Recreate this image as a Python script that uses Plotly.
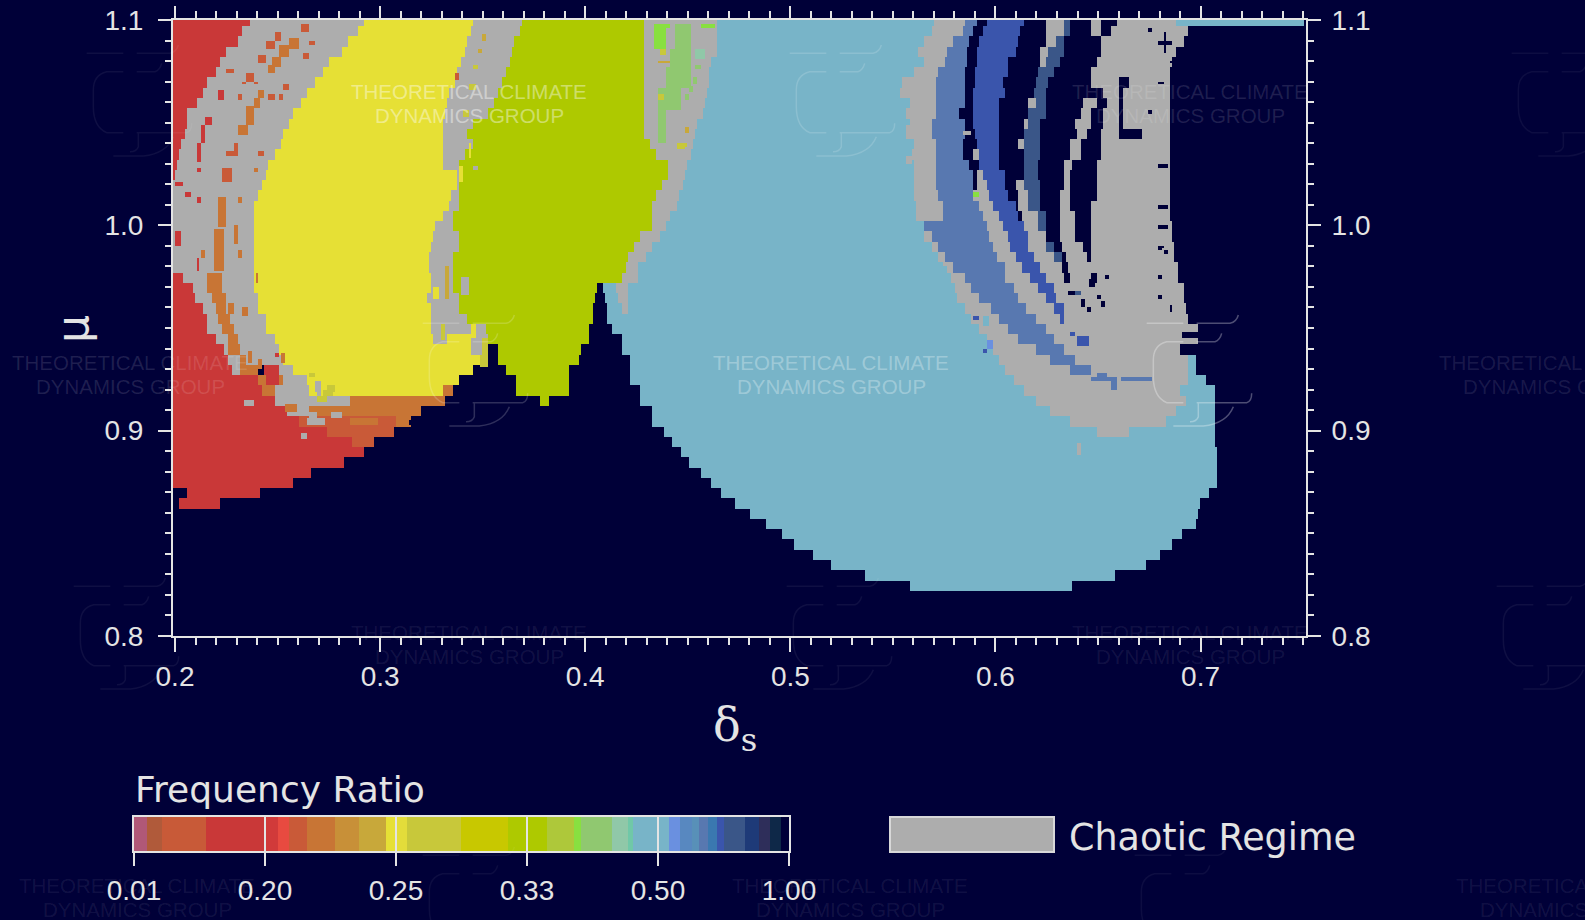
import re
import numpy as np
import plotly.graph_objects as go

# ---------- data ----------
# regime code -> colour
regime_codes = "DRaOGYLTBKSNMPCHE"
regime_colors = ["#000038", "#c93838", "#c95a38", "#c87535", "#adadad", "#e6e035", "#aec900",
                 "#78b4c8", "#5878b0", "#3a55ac", "#3a5688", "#88e040", "#90c870", "#90c8a8",
                 "#c8c83a", "#c8a83a", "#6a90e0"]

# mu of the top row and row height; every string holds runs "<code><delta*1000 at end of run>"
mu_top = 1.102
mu_step = 0.005
# the delta readings were taken against a first tick spacing that was a little short
delta_reading_scale = 2030 / 2051
regime_rows = [
 "R237 G292.6 Y346.8 G371 L431.5 G467.5 T574.4 G589.1 B595.2 D599.8 K617.9 D629.4 G638.4 S640.9 D650.7 G656.5 D663.9 G700.8",
 "R233 G289.7 Y346 G370 L431.5 G467.5 T572.7 G588.3 B593.2 D598.2 K616.2 D628.6 G638.4 S640.9 D650.7 G656.5 D660.6 G699.1",
 "R231 G285 Y344 G367.5 L431.5 G467.5 T569.4 G583.4 B590.8 D595.7 K615.4 D628.6 G634.3 S638.4 D655.6 G696.7",
 "R224.6 G282 Y343 G366.5 L431.5 G467.5 T566.2 G580.1 B590 D595.2 K613.8 D626.1 G630.2 S637.6 D655.6 G693.4",
 "R222 G276.4 Y341 G365 L431.5 G464.5 T568.6 G579.3 B590 D594.9 K610.5 D626.1 G628.6 S636 D654 G691",
 "R219.7 G273 Y339 G362.6 L431.5 G463.5 T563.7 G576 B589.1 D594 K609.7 D625.3 S632.7 D650.7 G690.1",
 "R215.8 G269 Y338 G361 L431.5 G463.5 T558 G575.2 B588.6 D594 K608 D623.6 S630.2 D650.7 G664.7 D670.4 G690.1",
 "R213.8 G265.5 Y335.5 G359 L431.5 G462 T557 G575.2 B589.1 D593.2 K608.8 D622.8 S628.6 D657.3 G664.7 D667.1 G690.1",
 "R210.8 G261.6 Y334 G356.7 L431.5 G461 T562 G575.2 B589.1 D593.2 K606.4 D620.3 G623.6 S628.6 D646.6 G654 D658.9 G664.7 D667.1 G690.1",
 "R206.4 G258 Y333 G354 L431.5 G459.6 T560.4 G575.2 B585.9 D593.2 K605.6 D620.3 S628.6 D645.8 G650.7 D657.3 G664.7 D667.1 G690.1",
 "R206 G255.7 Y332 G346.8 L431.5 G457 T562 G573.5 B589.1 D593.2 K605.6 D617.9 G620.3 S626.1 D643.3 G650.7 D657.3 G664.7 D667.1 G690.1",
 "R205 G253 Y332 G344 L431.5 G456 T560.4 G573.5 B589.1 D594 K605.6 D617.9 S626.1 D644.2 G649 D656.5 G664.7 D676.2 G690.1",
 "R203.5 G251.7 Y332 G347 L434 G455 T563.7 G575.2 B588.3 D595.2 K605.6 D615.4 G617.9 S626.1 D640.9 G645.8 D656.5 G690.1",
 "R202.5 G249 Y332 G343 L437.4 G453.7 T562.9 G575.2 B588.3 D593.2 G595.7 K605.6 D617.9 S626.1 D640.9 G645.8 D655.6 G690.1",
 "R201 G245.8 Y332 G340.4 L442.9 G452 T563.7 G575.2 B590.8 D595.7 K605.6 D617.9 S625.3 D637.6 G641.7 D654 G690.1",
 "R200 G245.3 Y339.4 G340.4 L443 G451 T563.7 G575.2 B593.2 D595.2 G598.2 K608.8 D617.9 S625.3 D638.4 G640.9 D654 G690.1",
 "G243 Y339.4 G340.4 L440 G449.8 T564.5 G575.2 B593.2 D595.2 G599.8 K608.8 D613.8 G617.9 S626.1 D637.6 G640.9 D654 G690.1",
 "G241 Y336.5 G340.4 L437.4 G447.8 T564.5 G576 B593.2 G600.6 K609.7 D615.4 G620.3 S626.1 D636 G640.9 D654 G690.1",
 "G239 Y335.5 G340.4 L435.5 G447.3 T565.3 G577.7 B595.7 G603.1 K613.8 D615.4 G620.3 S626.1 D636 G640.9 D650.7 G690.1",
 "G239 Y332 G337 L435.5 G443.8 T565.3 G577.7 B598.2 G605.6 K615.4 D617 G625.3 S629.4 D636 G643.3 D650.7 G690.1",
 "G239 Y328 G337 L435.5 G442.4 T568.6 G569.4 B599.8 G608 K617.9 G625.3 S629.4 D636 G643.3 D650.7 G691",
 "G239 Y326.6 G340.4 L429 G439 T568.6 G572.7 B601.5 G609.7 K620.3 G628.6 D636 G643.3 D650.7 G691",
 "G239 Y325.6 G340.4 L425.6 G435.5 T572.7 G576 B603.1 G611.3 K620.3 G628.6 S633.5 D636.8 G646.6 D650.7 G691.8",
 "G239 Y324.6 G337 L423 G432.5 T576 G579.3 B604.7 G613.8 K622.8 G632.7 S636.8 D639.2 G649 D650.7 G691.8",
 "G239 Y324.6 G337 L421.7 G428 T577.7 G582.6 B608.8 G617 K626.1 G636.8 D640 G694.2",
 "R203.8 G215.6 O223 G238.9 Y325.6 G337 L420 G427.6 T581.8 G589.1 B608.8 G621.2 K629.4 G638.4 D640.9 G650.7 D654 G694.2",
 "R209 G215.6 O223 G238.9 Y325.6 G337 L407.7 D411 T417.5 G423.3 T584.2 G591.6 B613 G625.3 K632.7 G696.7",
 "R209.8 G218 O224.6 G241 Y324 G339.6 L407.4 D411.6 T418 G423.3 T585 G595.7 B615.4 G629.4 K634.3 G696.7",
 "R214 G220.5 O224.6 G226.5 O229 G241.4 Y326.4 G340.4 L406 D412.6 T420 G423 T589.1 G602.3 B618.7 G633.5 K638.4 G698.3",
 "R215.6 G221.3 O227 G245.1 Y325.6 G344.5 L406 D412.6 T592.4 G606.4 B624.4 G636 K638.4 G699.1",
 "R215.6 G223 O229.5 G245.1 Y325.6 G352.7 L403.6 D415.1 T595.7 G610.5 B628.6 G704",
 "R219.7 G226.3 O231.2 G249.2 Y327.2 G333.8 Y347 G354.3 L404.4 D420 T599.8 G615.4 B633.5 G704",
 "R223.8 G226.3 O232 G250.9 Y354.3 D359.3 L400 D420 T603.1 G623.6 B638.4 G695",
 "R226.3 G232 O235 G253.4 Y352.7 D359.3 L399.5 D424.5 T606.4 G631 B643.3 G699.1 T703.3",
 "R227.9 G232.5 O241 D244.3 R250.9 G258.3 Y347 D363.4 L393.7 D424.5 T608.8 G640.9 B650.7 G699.1 T703.3",
 "R241 O245.1 R250.9 O253.4 G264.8 Y340.4 D368.3 L393.7 D424.5 T613 G699.1 T708.2",
 "R242.7 O249.2 G265.7 Y332.2 O337.1 D368.3 L393.7 D429 T617.9 G695 T712.3",
 "R249.2 G286.2 O333 D379.8 L383.9 D429 T624.4 G698.3 T712.3",
 "R255 G265.7 O321.5 D434.8 T631 G693.4 T712.3",
 "R260.7 a309.2 O315.7 D434.8 T640.9 G688.5 T712.3",
 "R275 a308 D440.9 T654 G669.6 T712.3",
 "R287 a298.5 D444.8 T712.3",
 "R292.8 D448.8 T712.8",
 "R282.9 D452.7 T712.8",
 "R267.3 D458.6 T712.8",
 "R258.3 D463.6 T712.8",
 "D205.7 R242.2 D469.4 T708.9",
 "D201.6 R221.8 D475.9 T704.9",
 "D483.3 T703.9",
 "D490.6 T703",
 "D499 T696.5",
 "D505.4 T691.1",
 "D513.8 T685.2",
 "D522.7 T677.8",
 "D539.9 T663",
 "D562.1 T641.9",
]

# isolated cells: code, delta*1000 from, to, mu from, to
regime_spots = [
 ("a",241,245,1.0835,1.0787),("a",245,249,1.090,1.086),("a",249.5,251.7,1.094,1.090),
 ("O",246,249,1.078,1.074),("O",251,255.8,1.088,1.082),("O",248,251.7,1.082,1.077),
 ("O",256,260.7,1.091,1.086),("a",261.6,265.7,1.098,1.094),("a",265.7,269,1.090,1.088),
 ("a",263,265.7,1.0838,1.0806),("a",225.4,228.7,1.0762,1.0738),("a",235.3,238.6,1.0738,1.0705),
 ("a",233.5,235.3,1.0705,1.0686),("a",239.4,241,1.0705,1.0686),("a",253.4,255.8,1.0686,1.066),
 ("R",221.3,223.8,1.066,1.061),("a",231.2,233.2,1.064,1.0608),("O",241,244.3,1.0657,1.0616),
 ("O",238.6,241.9,1.0616,1.0568),("a",246,249.2,1.064,1.0608),("a",251,253.4,1.064,1.0608),
 ("O",235.3,239.4,1.0576,1.0495),("O",231.2,236,1.0495,1.0438),("R",215.3,218.5,1.0535,1.0487),
 ("R",213,214.8,1.0487,1.0405),("R",210.7,212.6,1.0405,1.0308),("a",229,231,1.0405,1.034),
 ("a",225.4,229,1.036,1.034),("a",241,244.3,1.0362,1.034),("a",223,228.4,1.0284,1.021),
 ("O",238.6,241,1.0284,1.0265),("R",210.7,212.6,1.0284,1.0262),("R",200,204,1.0206,1.0186),
 ("R",205,208.2,1.0162,1.014),("R",210.7,212.6,1.0138,1.0106),("O",221.3,224.6,1.0138,0.999),
 ("O",218.9,223.8,0.9984,0.978),("O",230.7,233.3,1.0138,1.0108),("O",229,230.7,1.0,0.991),
 ("R",200,203.3,0.9975,0.990),("O",213,214.8,0.9878,0.9838),("O",231.2,232.8,0.9878,0.9838),
 ("R",210.7,212.3,0.9838,0.978),
 # between yellow and lime
 ("C",347,349.5,1.0778,1.0762),("H",351,353,1.0930,1.0900),("H",349,351,1.0860,1.0838),
 ("a",338,340.4,1.0738,1.0706),("C",345,348,1.0686,1.0660),("C",342,345,1.0560,1.0530),
 ("G",347,349,1.0290,1.0270),("Y",340.4,342.5,1.0290,1.0210),("Y",345,346.5,1.0400,1.0330),
 ("G",341,345,0.9750,0.9660),("H",333,335,0.9800,0.9640),("Y",327,330,0.9700,0.9640),
 ("C",331,333.5,0.9520,0.9440),("Y",336,339,0.9440,0.9410),("Y",346,348,0.9520,0.9440),
 ("C",350,354,0.9450,0.9310),("G",346,351,0.9450,0.9370),
 # left lower band
 ("O",240,241.5,0.9770,0.9720),("O",233,236,0.9600,0.9560),("R",249.5,251.5,0.9380,0.9360),
 ("O",236,238,0.9390,0.9330),("O",241.5,243.5,0.9350,0.9300),("O",252,254,0.9380,0.9330),
 ("C",266,269,0.9285,0.9260),("C",275,279,0.9220,0.9190),("G",269,272,0.9240,0.9190),
 ("G",270,272.5,0.9200,0.9150),("C",273,278,0.9200,0.9170),("C",270.5,275.5,0.9170,0.9140),
 ("O",293,297,0.9160,0.9130),("O",313,317,0.9160,0.9120),("O",254,260,0.9130,0.9090),
 ("G",234,239,0.9150,0.9120),("G",266,270,0.9090,0.9060),("G",277,282,0.9090,0.9060),
 ("G",265,274,0.9060,0.9030),("G",262.5,265,0.8990,0.8960),("D",315,317,0.9050,0.9030),
 ("O",286,300,0.9060,0.9030),
 # light greens on the upper chaotic strip
 ("N",435.6,442,1.098,1.086),("N",442,444,1.098,1.0965),("M",446.3,453.7,1.098,1.086),
 ("M",443.8,453.7,1.086,1.067),("M",442,452,1.0770,1.0673),("M",438,448.7,1.0673,1.056),
 ("M",438,442,1.056,1.0405),("N",458.6,466,1.098,1.0965),("P",456,461.5,1.086,1.0806),
 ("M",456,459,1.0780,1.0760),("M",455,457.5,1.0720,1.0690),("M",453,455,1.0680,1.0650),
 ("M",451,453,1.0640,1.0610),("H",438,444,1.0803,1.0787),("C",438,441.5,1.0640,1.0610),
 ("C",439,442,1.0860,1.0830),("C",448,452,1.0400,1.0380),("H",451,453,1.0480,1.0455),
 ("C",447,451,1.0400,1.0375),
 # thin teal line along the top right
 ("T",693.4,704,1.1,1.0975),("T",704,756,1.1,1.0970),
 # dark gaps on the right
 ("D",686.8,688.5,1.094,1.0843),("D",684.4,691,1.090,1.088),("D",678.6,681,1.096,1.094),
 ("D",690,694.2,1.0803,1.0787),("D",683.6,686.8,1.0705,1.0686),("D",678.6,681,1.056,1.054),
 ("D",684.4,689.3,1.0303,1.0284),("D",684.4,689.3,1.0102,1.0083),("D",684.4,689.3,1.0,0.9984),
 ("D",684.4,687,0.9903,0.9886),("D",684,686.4,0.9905,0.9885),("D",687,689.4,0.988,0.986),
 ("D",684,686.4,0.976,0.974),("D",684,686.4,0.966,0.964),("D",689.8,691,0.961,0.958),
 ("D",657.7,660,0.976,0.974),("D",650,653,0.974,0.9705),("D",653.6,656,0.966,0.964),
 ("D",656.2,658.4,0.9635,0.960),("D",648.9,650.9,0.960,0.958),("D",640.5,643.5,0.9685,0.9665),
 ("D",645.6,647.6,0.964,0.960),("D",696,704,0.9480,0.9450),
 # blue cells below the bands
 ("K",640.9,643.3,0.948,0.946),("K",644,649.9,0.946,0.9408),("B",666.3,681,0.9259,0.9236),
 ("B",650.7,660.6,0.9259,0.9236),("B",654,658.9,0.9283,0.9259),("B",660.6,663.9,0.9259,0.9205),
 ("E",599.8,603,0.9437,0.9405),("K",597.8,599.8,0.9405,0.9385),("K",593.2,595.7,0.9560,0.9540),
 ("N",593.2,595.7,1.0162,1.0138),("S",643.5,646,0.9685,0.9660),
 # small spots on the teal field
 ("G",559.6,562.9,1.0336,1.0303),("G",560,563,1.0490,1.0460),("G",644,646,0.8937,0.888),
 ("T",598,601,0.9560,0.9510),("T",578,580,0.9800,0.9775),("G",588,592,1.0465,1.0440),
]

# mu / delta axes
delta_ticks = [0.2, 0.3, 0.4, 0.5, 0.6, 0.7]
mu_ticks = [0.8, 0.9, 1.0, 1.1]

# colour key: segment edges in tick-interval units, one colour per segment
key_tick_labels = ["0.01", "0.20", "0.25", "0.33", "0.50", "1.00"]
key_edges = [0, .096, .213, .55, 1, 1.097, 1.184, 1.323, 1.531, 1.719, 1.927, 2, 2.081, 2.498, 2.855,
             3, 3.152, 3.36, 3.415, 3.651, 3.768, 3.81, 4, 4.081, 4.17, 4.258, 4.311, 4.382, 4.452,
             4.505, 4.664, 4.77, 4.852, 4.936, 5]
key_colors = ["#b05878", "#b05a3a", "#c85a38", "#c93838", "#d13a3a", "#e84a40", "#c95a38", "#c87535",
              "#c89038", "#c8a83a", "#e6e035", "#e3dc3a", "#c8c83a", "#c8c800", "#aec900", "#aec900",
              "#aec83a", "#88e040", "#90c870", "#90c8a8", "#70c8a8", "#78b4c8", "#78b4c8", "#6a90e0",
              "#5888c0", "#5890b8", "#5878b0", "#3a78b0", "#3a55ac", "#3a5688", "#1e3a78", "#2e2e5a",
              "#0e2848", "#000038"]

# ---------- build the grid ----------
delta_cells = np.arange(199.5, 757.5, 1.0)
mu_cells = np.arange(0.8005, 1.1, 0.001)
grid = np.zeros((len(mu_cells), len(delta_cells)), dtype=np.int8)
for i, row in enumerate(regime_rows):
    hi = mu_top - i * mu_step
    lo = hi - mu_step
    rmask = (mu_cells >= lo) & (mu_cells < hi)
    start = 0.0
    for code, end in re.findall(r"([A-Za-z])([\d.]+)", row):
        end = float(end)
        cmask = (delta_cells >= start) & (delta_cells < end)
        grid[np.ix_(rmask, cmask)] = regime_codes.index(code)
        start = end
for code, d0, d1, m0, m1 in regime_spots:
    rmask = (mu_cells < m0) & (mu_cells >= m1)
    cmask = (delta_cells >= d0) & (delta_cells < d1)
    grid[np.ix_(rmask, cmask)] = regime_codes.index(code)
delta_axis = 0.2 + (delta_cells / 1000 - 0.2) * delta_reading_scale


def stepped(colors):
    n = len(colors)
    scale = []
    for k, c in enumerate(colors):
        scale += [[k / n, c], [(k + 1) / n, c]]
    return scale


BG = "#000038"
FG = "#e4e4e4"
W, H = 1585, 920
px = lambda v: v / W
py = lambda v: 1 - v / H

fig = go.Figure()
fig.add_trace(go.Heatmap(x=delta_axis, y=mu_cells, z=grid, colorscale=stepped(regime_colors),
                         zmin=-0.5, zmax=len(regime_colors) - 0.5, showscale=False,
                         hoverinfo="skip", xaxis="x", yaxis="y"))
fig.add_trace(go.Heatmap(x=key_edges, y=[0, 1], z=[list(range(len(key_colors)))],
                         colorscale=stepped(key_colors), zmin=-0.5, zmax=len(key_colors) - 0.5,
                         showscale=False, hoverinfo="skip", xaxis="x2", yaxis="y2"))
# carries the mirrored top and right axes
fig.add_trace(go.Scatter(x=[None], y=[None], xaxis="x3", yaxis="y3", showlegend=False))

axis_font = dict(family="Liberation Sans", size=28, color=FG)
xdom = [px(173), px(1306)]
ydom = [py(636), py(20)]
xrange_ = [0.19902, 0.7514]
yrange_ = [0.8, 1.1]
xminor = dict(ticks="outside", ticklen=7, tickwidth=2, tickcolor=FG, dtick=0.01, tick0=0.2, showgrid=False)
yminor = dict(ticks="outside", ticklen=6, tickwidth=2, tickcolor=FG, dtick=0.01, tick0=0.8, showgrid=False)
common = dict(showline=True, linecolor=FG, linewidth=2, ticks="outside", tickwidth=2, tickcolor=FG,
              showgrid=False, zeroline=False, tickfont=axis_font, automargin=False)

fig.update_layout(
    width=W, height=H, autosize=False, margin=dict(l=0, r=0, t=0, b=0),
    paper_bgcolor=BG, plot_bgcolor=BG, showlegend=False,
    xaxis=dict(domain=xdom, range=xrange_, anchor="y", tickvals=delta_ticks, ticktext=[f"{v:.1f}" for v in delta_ticks],
               ticklen=14, minor=xminor, ticklabelstandoff=0, **common),
    yaxis=dict(domain=ydom, range=yrange_, anchor="x", tickvals=mu_ticks, ticktext=[f"{v:.1f}" for v in mu_ticks],
               ticklen=13, minor=yminor, ticklabelstandoff=9, **common),
    xaxis3=dict(domain=xdom, range=xrange_, anchor="y3", side="top", overlaying="x", tickvals=delta_ticks,
                ticklen=12, minor=xminor, showticklabels=False, **common),
    yaxis3=dict(domain=ydom, range=yrange_, anchor="x3", side="right", overlaying="y", tickvals=mu_ticks,
                ticktext=[f"{v:.1f}" for v in mu_ticks], ticklen=13, minor=yminor, ticklabelstandoff=5, **common),
    xaxis2=dict(domain=[px(134), px(789)], range=[0, 5], anchor="y2", tickvals=list(range(6)),
                ticktext=key_tick_labels, ticklen=13, ticklabelstandoff=0, mirror=True, **common),
    yaxis2=dict(domain=[py(851), py(817)], range=[0, 1], anchor="x2", showticklabels=False, ticks="",
                showline=True, linecolor=FG, linewidth=2, mirror=True, showgrid=False, zeroline=False, automargin=False),
)

# white separators inside the colour key
for t in range(1, 5):
    fig.add_shape(type="line", xref="x2", yref="y2", x0=t, x1=t, y0=0, y1=1, line=dict(color=FG, width=2))
# chaotic-regime swatch
fig.add_shape(type="rect", xref="paper", yref="paper", x0=px(890), x1=px(1054), y0=py(852), y1=py(817),
              fillcolor="#adadad", line=dict(color="#d8d8d8", width=2))


def note(text, x, y, size, family="DejaVu Sans", color=FG, anchor="center", **kw):
    fig.add_annotation(text=text, xref="paper", yref="paper", x=px(x), y=py(y), xanchor=anchor, yanchor="middle",
                       showarrow=False, font=dict(family=family, size=size, color=color), **kw)


note("Frequency Ratio", 133, 789, 36, anchor="left")
note("Chaotic Regime", 1067, 837, 36.5, anchor="left")
note("μ", 72, 329, 44, textangle=-90, family="DejaVu Sans")
note("δ<sub>s</sub>", 735, 728, 46, family="DejaVu Serif")

# faint watermark texts and logos
marks = [(469, 104, .42), (831, 374, .30), (1190, 104, .12), (130, 374, .12), (1557, 374, .10),
         (469, 644, .08), (1190, 644, .08), (850, 897, .08), (137, 897, .08), (1574, 897, .08)]
for x, y, a in marks:
    c = f"rgba(255,255,255,{a})"
    note("THEORETICAL CLIMATE", x, y - 12, 20.5, family="Liberation Sans", color=c)
    note("DYNAMICS GROUP", x, y + 12, 20.5, family="Liberation Sans", color=c)

logo = [
    [("M", 770, 310), ("L", 880, 310)],
    [("M", 920, 310), ("L", 1020, 310), ("Q", 1040, 305, 1045, 285)],
    [("M", 880, 365), ("L", 830, 365), ("Q", 790, 375, 790, 420), ("L", 790, 470), ("Q", 790, 530, 830, 548), ("L", 880, 548)],
    [("M", 920, 365), ("L", 975, 365), ("Q", 990, 360, 995, 340)],
    [("M", 925, 548), ("L", 925, 590), ("Q", 920, 605, 900, 605)],
    [("M", 850, 618), ("L", 940, 618), ("Q", 1010, 610, 1030, 560)],
    [("M", 920, 548), ("L", 1070, 548), ("Q", 1085, 545, 1085, 520)],
]
logo_spots = [(890, 220, .30), (166, 220, .18), (-183, 483, .06), (530, 483, .06), (1240, 483, .06),
              (-170, -50, .06), (533, -50, .15), (1255, -50, .05), (878, 752, .05), (166, 752, .05)]
for ox, oy, a in logo_spots:
    parts = []
    for seg in logo:
        for cmd in seg:
            nums = cmd[1:]
            out = []
            for k in range(0, len(nums), 2):
                out += [f"{px(ox + nums[k] / 3):.5f}", f"{py(oy + nums[k + 1] / 3):.5f}"]
            parts.append(cmd[0] + " " + " ".join(out))
    fig.add_shape(type="path", xref="paper", yref="paper", path=" ".join(parts),
                  line=dict(color=f"rgba(255,255,255,{a})", width=1.5))

fig.write_html("out.html", config={"displayModeBar": False},
               post_script="document.body.style.margin='0';document.body.style.overflow='hidden';")
